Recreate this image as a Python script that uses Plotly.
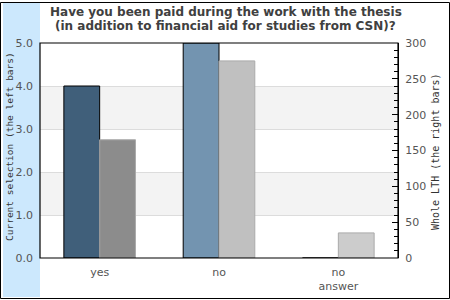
import plotly.graph_objects as go

categories = ["yes", "no", "no answer"]
tick_labels = ["yes", "no", "no<br>answer"]
current_selection = [4.0, 5.0, 0.0]
whole_lth = [165, 275, 35]
left_colors = ["#405f7a", "#7394b0", "#7394b0"]
right_colors = ["#8c8c8c", "#c0c0c0", "#cccccc"]

W, H = 450, 300
L, R, T, B = 40, 52, 43, 42
pw, ph = W - L - R, H - T - B

def px(x):
    return (x - L) / pw

def py(y):
    return (H - B - y) / ph

fig = go.Figure()
fig.add_trace(go.Bar(
    x=categories, y=current_selection, width=0.3, offset=-0.3,
    marker=dict(color=left_colors, line=dict(color="#000000", width=1)),
    yaxis="y", showlegend=False))
fig.add_trace(go.Bar(
    x=categories, y=whole_lth, width=0.3, offset=0.0,
    marker=dict(color=right_colors, line=dict(color="#aaaaaa", width=1)),
    yaxis="y2", showlegend=False))

shapes = []
shapes.append(dict(type="rect", xref="paper", yref="paper",
                   x0=px(0.5), x1=px(449.5), y0=py(298.5), y1=py(2.5),
                   line=dict(color="#000000", width=1), layer="below"))
shapes.append(dict(type="rect", xref="paper", yref="paper",
                   x0=px(3), x1=px(40), y0=py(297), y1=py(3),
                   fillcolor="#cce8fd", line=dict(width=0), layer="below"))
for lo, hi in [(1, 2), (3, 4)]:
    shapes.append(dict(type="rect", xref="paper", yref="y", x0=0, x1=1, y0=lo, y1=hi,
                       fillcolor="#f3f3f3", line=dict(width=0), layer="below"))
shapes.append(dict(type="rect", xref="paper", yref="paper", x0=0, x1=1, y0=0, y1=1,
                   line=dict(color="#000000", width=1.2), layer="above"))

annotations = [
    dict(text="<b>Have you been paid during the work with the thesis</b>", xref="paper", yref="paper",
         x=px(226), y=py(12), showarrow=False, font=dict(size=12, color="#404040", family="DejaVu Sans"),
         xanchor="center", yanchor="middle"),
    dict(text="<b>(in addition to financial aid for studies from CSN)?</b>", xref="paper", yref="paper",
         x=px(226), y=py(26.5), showarrow=False, font=dict(size=12, color="#404040", family="DejaVu Sans"),
         xanchor="center", yanchor="middle"),
    dict(text="Current selection (the left bars)", xref="paper", yref="paper",
         x=px(9), y=py(147), showarrow=False, textangle=-90,
         font=dict(size=9.5, color="#333333", family="DejaVu Sans Mono"),
         xanchor="center", yanchor="middle"),
    dict(text="Whole LTH (the right bars)", xref="paper", yref="paper",
         x=px(435), y=py(152), showarrow=False, textangle=-90,
         font=dict(size=10, color="#333333", family="DejaVu Sans Mono"),
         xanchor="center", yanchor="middle"),
]

fig.update_layout(
    width=W, height=H, margin=dict(l=L, r=R, t=T, b=B, autoexpand=False),
    paper_bgcolor="#ffffff", plot_bgcolor="rgba(0,0,0,0)",
    font=dict(family="DejaVu Sans", size=11, color="#555555"),
    xaxis=dict(type="category", tickvals=categories, ticktext=tick_labels,
               showgrid=False, zeroline=False, showline=False, ticks="",
               range=[-0.5, 2.5], ticklabelstandoff=6, automargin=False,
               tickfont=dict(size=11, color="#555555")),
    yaxis=dict(range=[0, 5], tickvals=[0, 1, 2, 3, 4, 5],
               ticktext=["0.0", "1.0", "2.0", "3.0", "4.0", "5.0"],
               showgrid=True, gridcolor="#dcdcdc", gridwidth=1, zeroline=False,
               showline=False, ticks="", ticklabelstandoff=6, automargin=False,
               tickfont=dict(size=11, color="#555555")),
    yaxis2=dict(range=[0, 300], overlaying="y", side="right",
                tickvals=[0, 50, 100, 150, 200, 250, 300],
                showgrid=False, zeroline=False, showline=True, linecolor="#000000", linewidth=1,
                ticks="inside", ticklen=6, tickcolor="#000000",
                minor=dict(dtick=10, ticks="inside", ticklen=4, tickcolor="#000000"),
                ticklabelstandoff=4, automargin=False,
                tickfont=dict(size=11, color="#555555")),
    shapes=shapes, annotations=annotations,
)

fig.write_html("out.html")
